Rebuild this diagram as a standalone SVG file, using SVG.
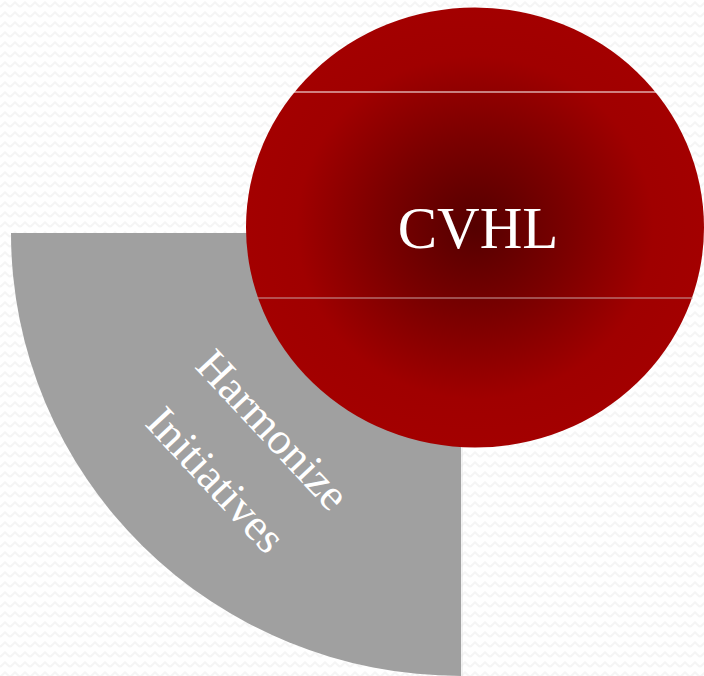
<svg xmlns="http://www.w3.org/2000/svg" width="704" height="676" viewBox="0 0 704 676">
<style>
.lbl{font-family:"Liberation Serif","Times New Roman",serif;fill:#ffffff}
</style>
<defs>
<pattern id="zig" width="10" height="10" patternUnits="userSpaceOnUse">
<polyline points="0,7 5,2.5 10,7" fill="none" stroke="#f5f5f5" stroke-width="2.2"/>
</pattern>
<radialGradient id="rg" cx="0.5" cy="0.5" r="0.5">
<stop offset="0" stop-color="#550000"/>
<stop offset="0.4" stop-color="#7a0000"/>
<stop offset="0.78" stop-color="#a00000"/>
<stop offset="1" stop-color="#a30000"/>
</radialGradient>
</defs>
<rect width="704" height="676" fill="#ffffff"/>
<rect width="704" height="676" fill="url(#zig)"/>
<g id="sector">
<path d="M11 233 L461 233 L461 676 A450 443 0 0 1 11 233 Z" fill="#a0a0a0"/>
<line x1="462" y1="233" x2="462" y2="676" stroke="#e6e6e6" stroke-width="1"/>
<text class="lbl" font-size="45" text-anchor="middle" transform="translate(262 440) rotate(47)">Harmonize</text>
<text class="lbl" font-size="45" text-anchor="middle" transform="translate(205 490) rotate(47)">Initiatives</text>
</g>
<g id="circle">
<ellipse cx="475" cy="227.5" rx="229" ry="220" fill="url(#rg)"/>
<line x1="294" y1="92" x2="658" y2="92" stroke="#ffffff" stroke-width="1.2"/>
<line x1="257" y1="298" x2="693" y2="298" stroke="#c8a0a0" stroke-width="1"/>
<text class="lbl" x="478" y="248" font-size="59" text-anchor="middle">CVHL</text>
</g>
<g id="connectors"></g>
</svg>
